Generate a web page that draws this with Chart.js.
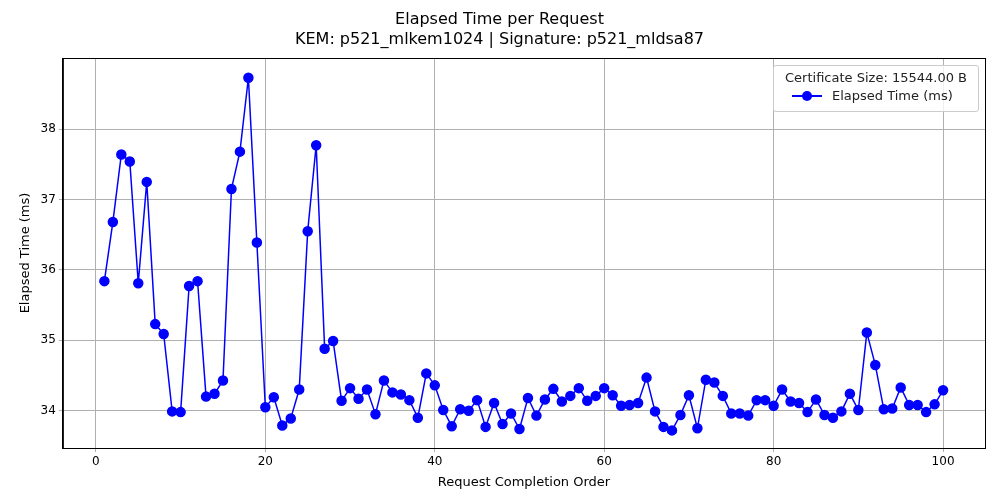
<!DOCTYPE html>
<html>
<head>
<meta charset="utf-8">
<script src="https://cdn.jsdelivr.net/npm/chart.js@4"></script>
<style>
  body { margin: 0; background: #fff; font-family: "DejaVu Sans", sans-serif; }
  #wrap { position: relative; width: 1000px; height: 500px; }
  #legend { position: absolute; left: 773px; top: 65px; width: 204px; height: 45px;
    border: 1px solid #ccc; border-radius: 3px; background: rgba(255,255,255,0.8); font-size: 13px; color: #222; }
  #legend .t { text-align: center; margin-top: 4px; }
  #legend .r { margin-top: 3px; margin-left: 18px; display: flex; align-items: center; }
  #legend .sw { position: relative; width: 30px; height: 2px; background: #0000ff; margin-right: 10px; }
  #legend .sw::after { content: ""; position: absolute; left: 10px; top: -4px; width: 10px; height: 10px; border-radius: 50%; background: #0000ff; }
</style>
</head>
<body>
<div id="wrap">
  <canvas id="c" width="1000" height="500"></canvas>
  <div id="legend">
    <div class="t">Certificate Size: 15544.00 B</div>
    <div class="r"><span class="sw"></span>Elapsed Time (ms)</div>
  </div>
</div>
<script>
// 請求完成順序 1..100
const requestOrder = [];
for (let i = 1; i <= 100; i++) requestOrder.push(i);

// 每個請求的耗時 (ms)
const elapsedMs = [
  35.84, 36.68, 37.64, 37.54, 35.81, 37.25, 35.23, 35.09, 33.99, 33.98,
  35.77, 35.84, 34.20, 34.24, 34.43, 37.15, 37.68, 38.73, 36.39, 34.05,
  34.19, 33.79, 33.89, 34.30, 36.55, 37.77, 34.88, 34.99, 34.14, 34.32,
  34.17, 34.30, 33.95, 34.43, 34.26, 34.23, 34.15, 33.90, 34.53, 34.36,
  34.01, 33.78, 34.02, 34.00, 34.15, 33.77, 34.11, 33.81, 33.96, 33.74,
  34.18, 33.93, 34.16, 34.31, 34.13, 34.21, 34.32, 34.14, 34.21, 34.32,
  34.22, 34.07, 34.08, 34.11, 34.47, 33.99, 33.77, 33.72, 33.94, 34.22,
  33.75, 34.44, 34.40, 34.21, 33.96, 33.96, 33.93, 34.15, 34.15, 34.07,
  34.30, 34.13, 34.11, 33.98, 34.16, 33.94, 33.90, 33.99, 34.24, 34.01,
  35.11, 34.65, 34.02, 34.03, 34.33, 34.08, 34.08, 33.98, 34.09, 34.29
];

const titleLines = ["Elapsed Time per Request", "KEM: p521_mlkem1024 | Signature: p521_mldsa87"];

const points = requestOrder.map((x, i) => ({ x: x, y: elapsedMs[i] }));

// 畫出四邊框線
const frame = {
  id: "frame",
  afterDraw(chart) {
    const { ctx, chartArea: a } = chart;
    ctx.save();
    ctx.strokeStyle = "#000";
    ctx.lineWidth = 1;
    ctx.strokeRect(a.left + 0.5, a.top + 0.5, a.right - a.left, a.bottom - a.top);
    ctx.restore();
  }
};

new Chart(document.getElementById("c").getContext("2d"), {
  type: "line",
  data: {
    datasets: [{
      label: "Elapsed Time (ms)",
      data: points,
      borderColor: "#0000ff",
      backgroundColor: "#0000ff",
      borderWidth: 1.5,
      pointRadius: 4.5,
      pointHoverRadius: 4.5,
      tension: 0
    }]
  },
  options: {
    responsive: false,
    animation: false,
    layout: { padding: { left: 14, right: 15, top: 4, bottom: 6 } },
    plugins: {
      legend: { display: false },
      tooltip: { enabled: false },
      title: {
        display: true,
        text: titleLines,
        color: "#000",
        font: { family: "DejaVu Sans", size: 16, weight: "normal", lineHeight: 1.25 },
        padding: { top: 6, bottom: 8 }
      }
    },
    scales: {
      x: {
        type: "linear",
        min: -3.9, max: 104.95,
        afterBuildTicks: (s) => { s.ticks = [0, 20, 40, 60, 80, 100].map(v => ({ value: v })); },
        grid: { color: "#b0b0b0", drawTicks: true, tickLength: 4 },
        border: { color: "#000" },
        ticks: { color: "#000", font: { family: "DejaVu Sans", size: 12 }, maxRotation: 0 },
        title: { display: true, text: "Request Completion Order", color: "#000",
                 font: { family: "DejaVu Sans", size: 13 }, padding: { top: 2 } }
      },
      y: {
        min: 33.47, max: 39.01,
        afterBuildTicks: (s) => { s.ticks = [34, 35, 36, 37, 38].map(v => ({ value: v })); },
        grid: { color: "#b0b0b0", tickLength: 4 },
        border: { color: "#000" },
        ticks: { color: "#000", font: { family: "DejaVu Sans", size: 12 } },
        title: { display: true, text: "Elapsed Time (ms)", color: "#000",
                 font: { family: "DejaVu Sans", size: 13 }, padding: { bottom: 4 } }
      }
    }
  },
  plugins: [frame]
});
</script>
</body>
</html>
